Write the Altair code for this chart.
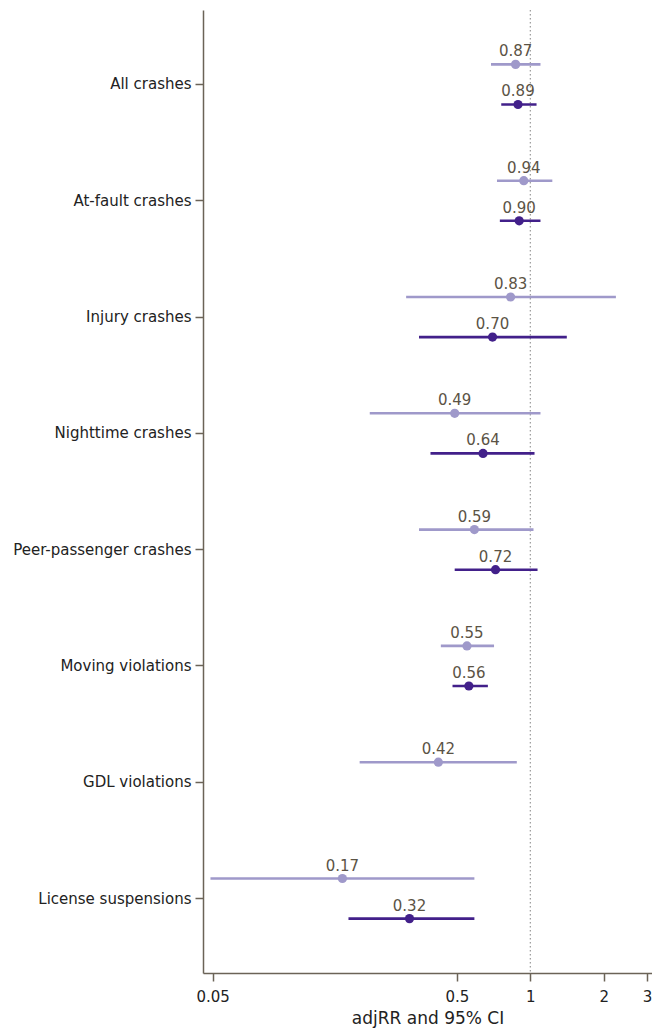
import altair as alt
import pandas as pd

categories = ["All crashes", "At-fault crashes", "Injury crashes", "Nighttime crashes",
              "Peer-passenger crashes", "Moving violations", "GDL violations", "License suspensions"]
series_names = ["Light", "Dark"]

light_est = [0.87, 0.94, 0.83, 0.49, 0.59, 0.55, 0.42, 0.17]
light_lo = [0.69, 0.73, 0.31, 0.22, 0.35, 0.43, 0.20, 0.049]
light_hi = [1.10, 1.23, 2.24, 1.10, 1.03, 0.71, 0.88, 0.59]

dark_est = [0.89, 0.90, 0.70, 0.64, 0.72, 0.56, None, 0.32]
dark_lo = [0.76, 0.75, 0.35, 0.39, 0.49, 0.48, None, 0.18]
dark_hi = [1.06, 1.10, 1.41, 1.04, 1.07, 0.67, None, 0.59]

x_ticks = [0.05, 0.5, 1, 2, 3]

rows = []
for i, c in enumerate(categories):
    rows.append(dict(cat=c, series="Light", est=light_est[i], lo=light_lo[i], hi=light_hi[i]))
    if dark_est[i] is not None:
        rows.append(dict(cat=c, series="Dark", est=dark_est[i], lo=dark_lo[i], hi=dark_hi[i]))
df = pd.DataFrame(rows)
df["lab"] = df["est"].map(lambda v: f"{v:.2f}")

FONT = "DejaVu Sans"
AXCOL = "#6b6357"

xscale = alt.Scale(type="log", domain=[0.04567, 3.148], nice=False)
xaxis = alt.Axis(values=x_ticks, format="~g", title="adjRR and 95% CI", grid=False,
                 tickSize=8, labelPadding=8, titlePadding=6, labelFontSize=15)


def xenc(field):
    return alt.X(field, type="quantitative", scale=xscale, axis=xaxis)


yenc = alt.Y("cat:N", sort=categories,
             scale=alt.Scale(domain=categories, paddingInner=0, paddingOuter=0.14),
             axis=alt.Axis(title=None, tickSize=8, labelPadding=4, labelLimit=400, grid=False,
                           labelFontSize=15))
yoff = alt.YOffset("series:N", sort=series_names,
                   scale=alt.Scale(domain=series_names, paddingInner=0, paddingOuter=0.45))
color = alt.Color("series:N", scale=alt.Scale(domain=series_names, range=["#9f99ca", "#42208a"]),
                  legend=None)

ref = alt.Chart(pd.DataFrame({"v": [1]})).mark_rule(
    color="#a0a0a0", strokeDash=[1.5, 2.5], strokeWidth=1.3
).encode(x=xenc("v"))

base = alt.Chart(df)
bars = base.mark_rule(strokeWidth=2.6).encode(
    x=xenc("lo"), x2=alt.X2("hi:Q"), y=yenc, yOffset=yoff, color=color)
pts = base.mark_circle(size=85, opacity=1).encode(
    x=xenc("est"), y=yenc, yOffset=yoff, color=color)
txt = base.mark_text(dy=-8, baseline="alphabetic", fontSize=15, font=FONT, color="#5b5345").encode(
    x=xenc("est"), y=yenc, yOffset=yoff, text="lab:N")

chart = alt.layer(ref, bars, pts, txt).properties(
    width=449, height=963,
    autosize="none",
    padding={"left": 195, "top": 2, "right": 0, "bottom": 55},
).configure_view(stroke=None).configure_axis(
    domainColor=AXCOL, domainWidth=1.5, tickColor=AXCOL, tickWidth=1.5,
    labelFont=FONT, labelColor="#222222",
    titleFont=FONT, titleFontSize=17, titleFontWeight="normal", titleColor="#222222",
)

chart.save("out.html", embed_options={"renderer": "svg", "actions": False})
